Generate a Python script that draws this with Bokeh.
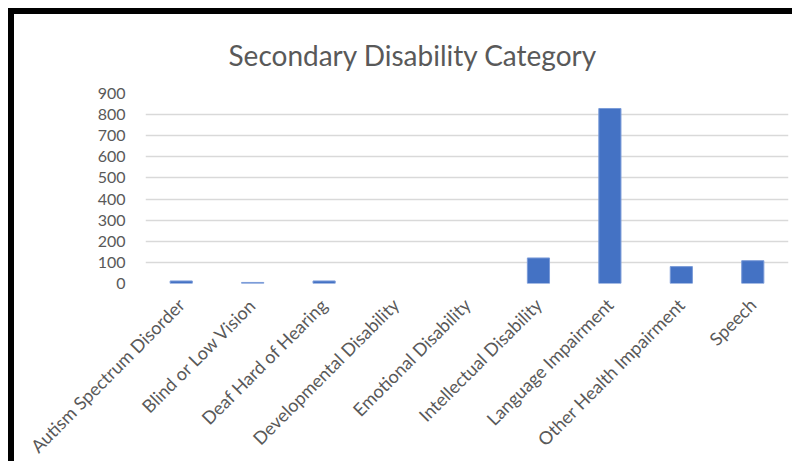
from bokeh.plotting import figure
from bokeh.models import FactorRange, Range1d, FixedTicker
from bokeh.embed import file_html
from bokeh.resources import INLINE
import math

categories = ["Autism Spectrum Disorder", "Blind or Low Vision", "Deaf Hard of Hearing",
              "Developmental Disability", "Emotional Disability", "Intellectual Disability",
              "Language Impairment", "Other Health Impairment", "Speech"]
counts = [12, 5, 12, 0, 0, 121, 829, 80, 108]
y_ticks = [0, 100, 200, 300, 400, 500, 600, 700, 800, 900]
title_text = "Secondary Disability Category"

FONT = "Lato"
GRAY = "#595959"

p = figure(width=778, height=447, output_backend="svg", toolbar_location=None,
           x_range=FactorRange(*categories, range_padding=0),
           y_range=Range1d(0, 900),
           title=title_text,
           min_border_left=131, min_border_right=10, min_border_top=79, min_border_bottom=176)
p.styles = {"position": "absolute", "left": "8px", "top": "8px",
            "border-top": "6px solid black", "border-left": "6px solid black",
            "box-sizing": "content-box"}
p.outline_line_color = None
p.background_fill_color = "white"
p.border_fill_color = "white"

p.title.text_font = FONT
p.title.text_font_size = "28px"
p.title.text_font_style = "normal"
p.title.text_color = GRAY
p.title.align = "left"
p.title.offset = 83
p.title.standoff = 40
p.title.text_line_height = 0.6
p.title.vertical_align = "top"

bars_x = [c for c, v in zip(categories, counts) if v > 0]
bars_top = [v for v in counts if v > 0]
p.vbar(x=bars_x, top=bars_top, width=0.31, fill_color="#4472C4",
       line_color="#7a9bd8", line_width=1)

p.xgrid.grid_line_color = None
p.ygrid.grid_line_color = "#d9d9d9"
p.ygrid.grid_line_width = 1.5
p.yaxis.ticker = FixedTicker(ticks=y_ticks)

for ax in (p.xaxis[0], p.yaxis[0]):
    ax.axis_line_color = None
    ax.major_tick_line_color = None
    ax.minor_tick_line_color = None
    ax.major_label_text_font = FONT
    ax.major_label_text_color = GRAY

p.yaxis.major_label_text_font_size = "16px"
p.yaxis.major_label_standoff = 14
p.xaxis.major_label_text_font_size = "18px"
p.xaxis.major_label_orientation = math.pi / 4
p.xaxis.major_label_standoff = 12

open("out.html", "w").write(file_html(p, INLINE))
